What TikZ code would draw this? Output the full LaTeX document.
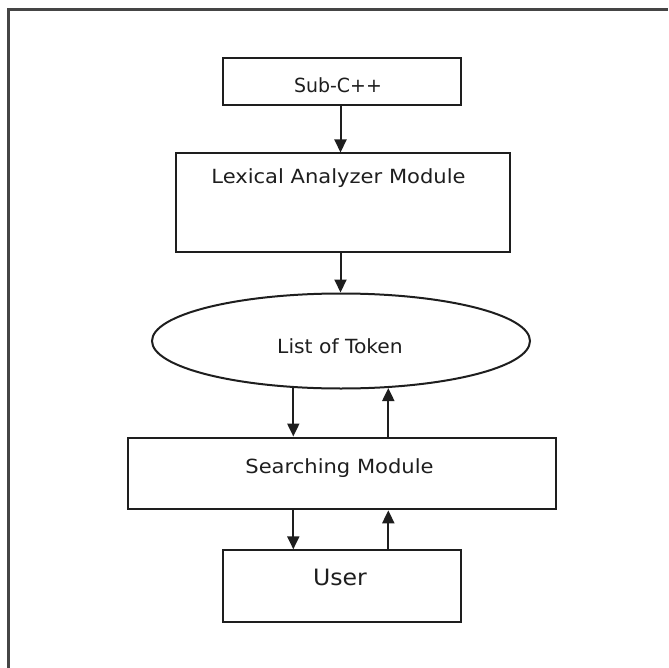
\documentclass[tikz,border=0pt]{standalone}
\usepackage{fontspec}
\setmainfont{DejaVu Sans}
\usetikzlibrary{shapes.geometric,arrows.meta}
\definecolor{ink}{HTML}{1E1E1E}
\definecolor{framec}{HTML}{454545}
\tikzset{
  box/.style={draw=ink, line width=2pt, rectangle, inner sep=0pt, anchor=north west},
  lbl/.style={anchor=base, inner sep=0pt, text=ink, font=\fontsize{19.5}{21}\selectfont},
  arr/.style={draw=ink, line width=2pt, -{Triangle[width=12pt,length=13pt]}},
}
\begin{document}
\begin{tikzpicture}[x=1pt,y=-1pt]
\useasboundingbox (0,0) rectangle (668,668);
% outer frame (only top and left visible)
\coordinate (fbl) at (8.5,668);
\coordinate (ftl) at (8.5,9.5);
\coordinate (ftr) at (668,9.5);
\draw[framec, line width=2.6pt] (fbl) -- (ftl) -- (ftr);
% boxes
\node[box, minimum width=237.5pt, minimum height=47.5pt] (sub) at (222,57) {};
\node[box, minimum width=333.5pt, minimum height=98pt] (lex) at (175,152.5) {};
\node[draw=ink, line width=2pt, ellipse, inner sep=0pt, minimum width=378pt, minimum height=95pt] (tok) at (341,341) {};
\node[box, minimum width=428.3pt, minimum height=71.8pt] (srch) at (126.7,436.5) {};
\node[box, minimum width=238pt, minimum height=71.7pt] (usr) at (222,549.3) {};
% labels
\node[lbl] (subt) at (338,92.7) {\scalebox{0.97}[1]{Sub-C++}};
\node[lbl] (lext) at (338.5,184) {\scalebox{1.08}[1]{Lexical Analyzer Module}};
\node[lbl] (tokt) at (340,353) {\scalebox{1.04}[1]{List of Token}};
\node[lbl] (srcht) at (339.5,473) {\scalebox{1.08}[1]{Searching Module}};
\node[lbl, font=\fontsize{22.5}{24}\selectfont] (usrt) at (340,585) {\scalebox{1.05}[1]{User}};
% connector x positions
\coordinate (xm) at (340.5,0);
\coordinate (xd) at (293.3,0);
\coordinate (xu) at (388.3,0);
% connectors
\draw[arr] (sub.south -| xm) -- (lex.north -| xm);
\draw[arr] (lex.south -| xm) -- (tok.north -| xm);
\draw[arr] ([yshift=1.5pt]tok.south -| xd) -- (srch.north -| xd);
\draw[arr] (srch.north -| xu) -- ([yshift=1.5pt]tok.south -| xu);
\draw[arr] (srch.south -| xd) -- (usr.north -| xd);
\draw[arr] (usr.north -| xu) -- (srch.south -| xu);
\end{tikzpicture}
\end{document}
